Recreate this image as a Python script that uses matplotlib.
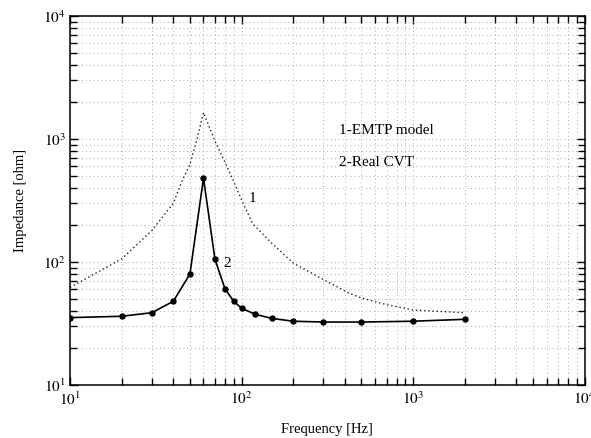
import numpy as np
import matplotlib
matplotlib.use("Agg")
import matplotlib.pyplot as plt
from matplotlib.ticker import LogLocator, FuncFormatter, NullFormatter


# DATA
# curve 1 - EMTP model (dotted)
emtp_freq = [10, 20, 30, 40, 45, 50, 55, 60, 70, 80, 90, 100, 116, 150, 200, 300, 425, 500, 700, 1000, 2000]
emtp_imp = [62, 106, 180, 300, 456, 620, 1000, 1640, 960, 650, 450, 320, 205, 142, 98, 72, 55.6, 51, 45, 40.7, 38.7]

# curve 2 - real CVT (measured points)
cvt_freq = [10, 20, 30, 40, 50, 60, 70, 80, 90, 100, 120, 150, 200, 300, 500, 1000, 2000]
cvt_imp = [35.3, 36.2, 38.7, 47.9, 79.8, 480, 105, 60.7, 47.9, 42.1, 37.6, 34.8, 33.0, 32.5, 32.5, 33.0, 34.2]

x_limits = [10, 10000]
y_limits = [10, 10000]

legend_lines = ["1-EMTP model", "2-Real CVT"]


# FONTS
plt.rcParams["font.family"] = ["Liberation Serif", "DejaVu Serif"]
plt.rcParams["mathtext.fontset"] = "stix"


# PLOT
fig = plt.figure(figsize=(5.91, 4.38), dpi=100)
ax = fig.add_axes([0.1184, 0.121, 0.871, 0.8425])

ax.set_xscale("log")
ax.set_yscale("log")
ax.set_xlim(x_limits)
ax.set_ylim(y_limits)

ax.plot(
    emtp_freq,
    emtp_imp,
    linestyle=(0, (1, 2)),
    color="#222222",
    linewidth=1.0
)

ax.plot(
    cvt_freq,
    cvt_imp,
    color="black",
    linewidth=1.2,
    marker="o",
    markersize=3.6
)

# CURVE NUMBERS
ax.text(116, 330, "1", fontsize=11, ha="center", va="center")
ax.text(82, 98, "2", fontsize=11, ha="center", va="center")

# LEGEND TEXT
ax.text(370, 1180, legend_lines[0], fontsize=11, ha="left", va="center")
ax.text(370, 640, legend_lines[1], fontsize=11, ha="left", va="center")

# TICKS
def power_label(value, pos):
    exponent = int(round(np.log10(value)))
    return "$10^{%d}$" % exponent

for axis in (ax.xaxis, ax.yaxis):
    axis.set_major_locator(LogLocator(base=10, numticks=10))
    axis.set_minor_locator(LogLocator(base=10, subs=np.arange(2, 10), numticks=20))
    axis.set_major_formatter(FuncFormatter(power_label))
    axis.set_minor_formatter(NullFormatter())

ax.tick_params(which="both", direction="in", top=True, right=True,
               labelsize=11, width=1.0, color="black")
ax.tick_params(which="major", length=6)
ax.tick_params(which="minor", length=5)
ax.tick_params(axis="x", pad=4)
ax.tick_params(axis="y", pad=3)

# GRID
ax.grid(which="both", linestyle=(0, (1, 3)), color="#aaaaaa", linewidth=0.7)

for spine in ax.spines.values():
    spine.set_linewidth(1.1)
    spine.set_color("black")

# LABELS
ax.set_xlabel("Frequency [Hz]", fontsize=10.5, labelpad=11)
ax.set_ylabel("Impedance [ohm]", fontsize=10.5, labelpad=12)

# SAVE
fig.savefig("out.png", dpi=100)
